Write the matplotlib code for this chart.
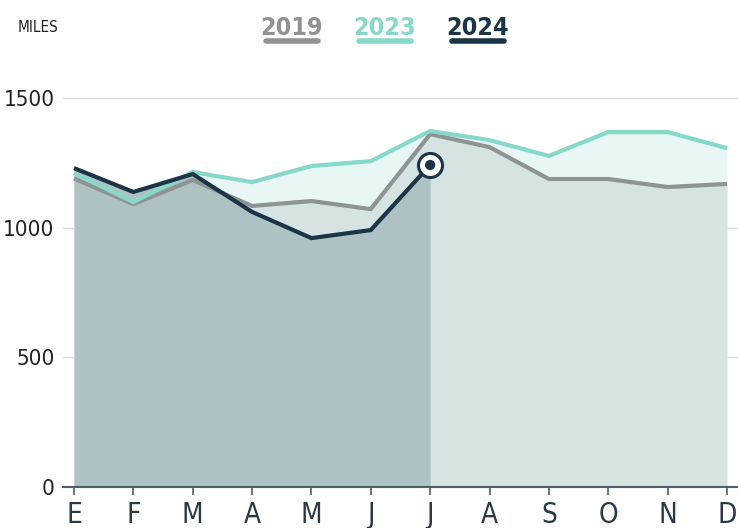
import matplotlib
matplotlib.use("Agg")
import matplotlib.pyplot as plt
from matplotlib import font_manager
import numpy as np

months = ["E", "F", "M", "A", "M", "J", "J", "A", "S", "O", "N", "D"]
y2019 = [1190, 1091, 1184, 1084, 1103, 1072, 1361, 1311, 1188, 1188, 1157, 1169]
y2023 = [1211, 1099, 1215, 1176, 1238, 1257, 1373, 1338, 1277, 1369, 1369, 1307]
y2024 = [1230, 1138, 1207, 1061, 960, 991, 1242]
yticks = [0, 500, 1000, 1500]
legend_labels = ["2019", "2023", "2024"]

c2019, c2023, c2024 = "#8e9393", "#86d9c9", "#1b3447"
f2019, f2023, f2024 = "#d5e3e3", "#e8f7f5", "#afc2c3"

# pick a condensed font if one is installed
cond = None
for f in font_manager.fontManager.ttflist:
    if str(f.stretch) in ("condensed", "semi-condensed", "extra-condensed", "600", "500") or \
       "Condensed" in f.fname or "Narrow" in f.fname:
        if f.name in ("DejaVu Sans", "Liberation Sans Narrow", "Liberation Sans", "Roboto", "Open Sans", "Noto Sans"):
            cond = (f.name, f.stretch)
            break

if cond is not None:
    FAM = [cond[0], "DejaVu Sans"]
    STRETCH = cond[1]
else:
    FAM = ["Roboto", "DejaVu Sans"]
    STRETCH = "normal"
plt.rcParams["font.family"] = FAM
plt.rcParams["font.stretch"] = STRETCH

fig = plt.figure(figsize=(7.38, 5.28), dpi=100)
ax = fig.add_axes([63/738, 41/528, 675/738, (487-60)/528])

x = np.arange(len(months))
x24 = np.arange(len(y2024))

ax.fill_between(x, 0, y2023, color=f2023, lw=0, zorder=1)
ax.fill_between(x, 0, y2019, color=f2019, lw=0, zorder=2)
ax.fill_between(x24, 0, y2024, color=f2024, lw=0, zorder=3)

lw = 3.0
ax.plot(x, y2019, color=c2019, lw=lw, zorder=5, solid_capstyle="butt", solid_joinstyle="miter")
ax.plot(x, y2023, color=c2023, lw=lw, zorder=6, solid_capstyle="butt", solid_joinstyle="miter")
ax.plot(x24, y2024, color=c2024, lw=lw, zorder=7, solid_capstyle="butt", solid_joinstyle="miter")

# end marker
ax.scatter([x24[-1]], [y2024[-1]], s=300, facecolor="white", edgecolor=c2024, linewidth=2.2, zorder=8)
ax.scatter([x24[-1]], [y2024[-1]], s=55, facecolor=c2024, edgecolor="none", zorder=9)

ax.set_xlim(-0.185, 11.186)
ax.set_ylim(0, 1647)

for s in ["top", "right", "left"]:
    ax.spines[s].set_visible(False)
ax.spines["bottom"].set_color("#4d5e66")
ax.spines["bottom"].set_linewidth(1.5)
ax.spines["bottom"].set_zorder(10)

ax.set_yticks(yticks)
ax.set_yticklabels([str(v) for v in yticks], fontsize=16, color="#222222", fontweight="light")
ax.tick_params(axis="y", length=0, pad=6)
for v in yticks[1:]:
    ax.axhline(v, color="#d9d9d9", lw=1.0, zorder=0.5)

ax.set_xticks(x)
ax.set_xticklabels(months, fontsize=20, color="#2a3a45", fontweight="light")
ax.tick_params(axis="x", length=6, width=1.2, color="#4d5e66", pad=4, direction="out")

# header
fig.text(18/738, 1 - 32/528, "MILES", fontsize=11, color="#222222", va="baseline", ha="left")
leg_x = [292, 385, 478]
for lbl, cx, col in zip(legend_labels, leg_x, [c2019, c2023, c2024]):
    fig.text(cx/738, 1 - 35/528, lbl, fontsize=18, fontweight="bold", color=col,
             ha="center", va="baseline")
    fig.add_artist(plt.Line2D([(cx-26)/738, (cx+26)/738], [1 - 40.5/528, 1 - 40.5/528],
                              color=col, lw=4, solid_capstyle="round", transform=fig.transFigure))

fig.savefig("out.png", dpi=100)
